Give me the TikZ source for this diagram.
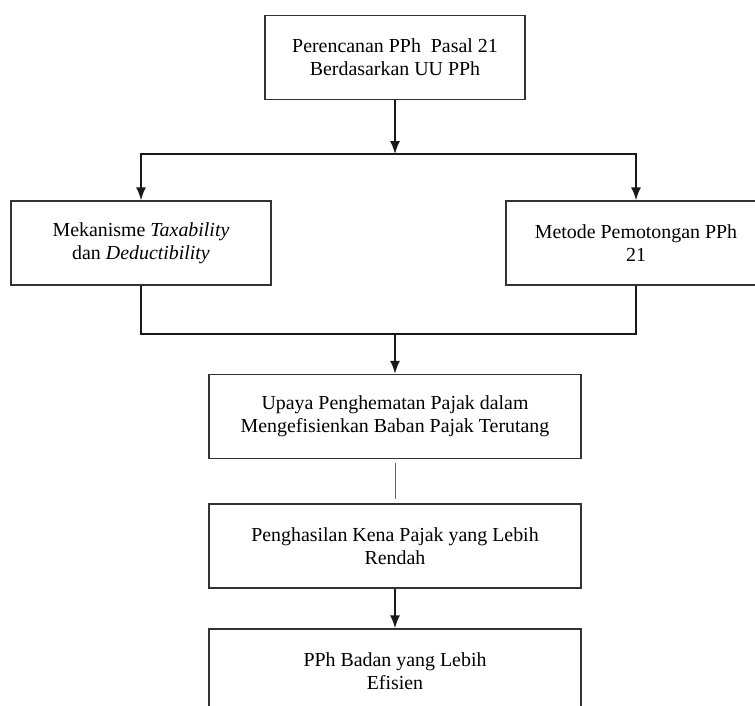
\documentclass[tikz,border=0pt]{standalone}
\usepackage{fontspec}
\setmainfont{Liberation Serif}
\usepackage{tikz}
\usetikzlibrary{arrows.meta}
\usetikzlibrary{calc}

\tikzset{
  box/.style={draw=black!80, line width=1.5pt, rectangle, align=center,
    minimum height=84pt, inner sep=0pt, font=\fontsize{19.9}{23}\selectfont},
  flow/.style={line width=1.5pt, draw=black!90, -{Latex[length=13pt,width=10pt]}},
  link/.style={line width=1.5pt, draw=black!90}
}

\begin{document}
\begin{tikzpicture}[x=1pt, y=-1pt]
    \useasboundingbox (0,0) rectangle (755,705);
    \clip (0,0) rectangle (755,705);

    \node[box, minimum width=260pt] (plan) at (395,57.5) {Perencanan PPh\ \ Pasal 21\\Berdasarkan UU PPh};
    \node[box, minimum width=260pt] (mech) at (141,243) {Mekanisme \textit{Taxability}\\dan \textit{Deductibility}};
    \node[box, minimum width=260pt] (method) at (636,243) {Metode Pemotongan PPh\\21};
    \node[box, minimum width=372pt] (effort) at (395,416.5) {Upaya Penghematan Pajak dalam\\Mengefisienkan Baban Pajak Terutang};
    \node[box, minimum width=372pt] (income) at (395,546) {Penghasilan Kena Pajak yang Lebih\\Rendah};
    \node[box, minimum width=372pt] (result) at (395,671) {PPh Badan yang Lebih\\Efisien};

    \coordinate (split) at (395,154);
    \coordinate (join) at (395,334);

    \draw[flow] (plan.south) -- (split);
    \draw[flow] (split) -| (mech.north);
    \draw[flow] (split) -| (method.north);
    \draw[link] (mech.south) |- (join);
    \draw[link] (method.south) |- (join);
    \draw[flow] (join) -- (effort.north);
    \draw[line width=0.8pt, draw=black!60, shorten <=4pt, shorten >=4pt] (effort.south) -- (income.north);
    \draw[flow] (income.south) -- (result.north);
  \end{tikzpicture}
\end{document}
